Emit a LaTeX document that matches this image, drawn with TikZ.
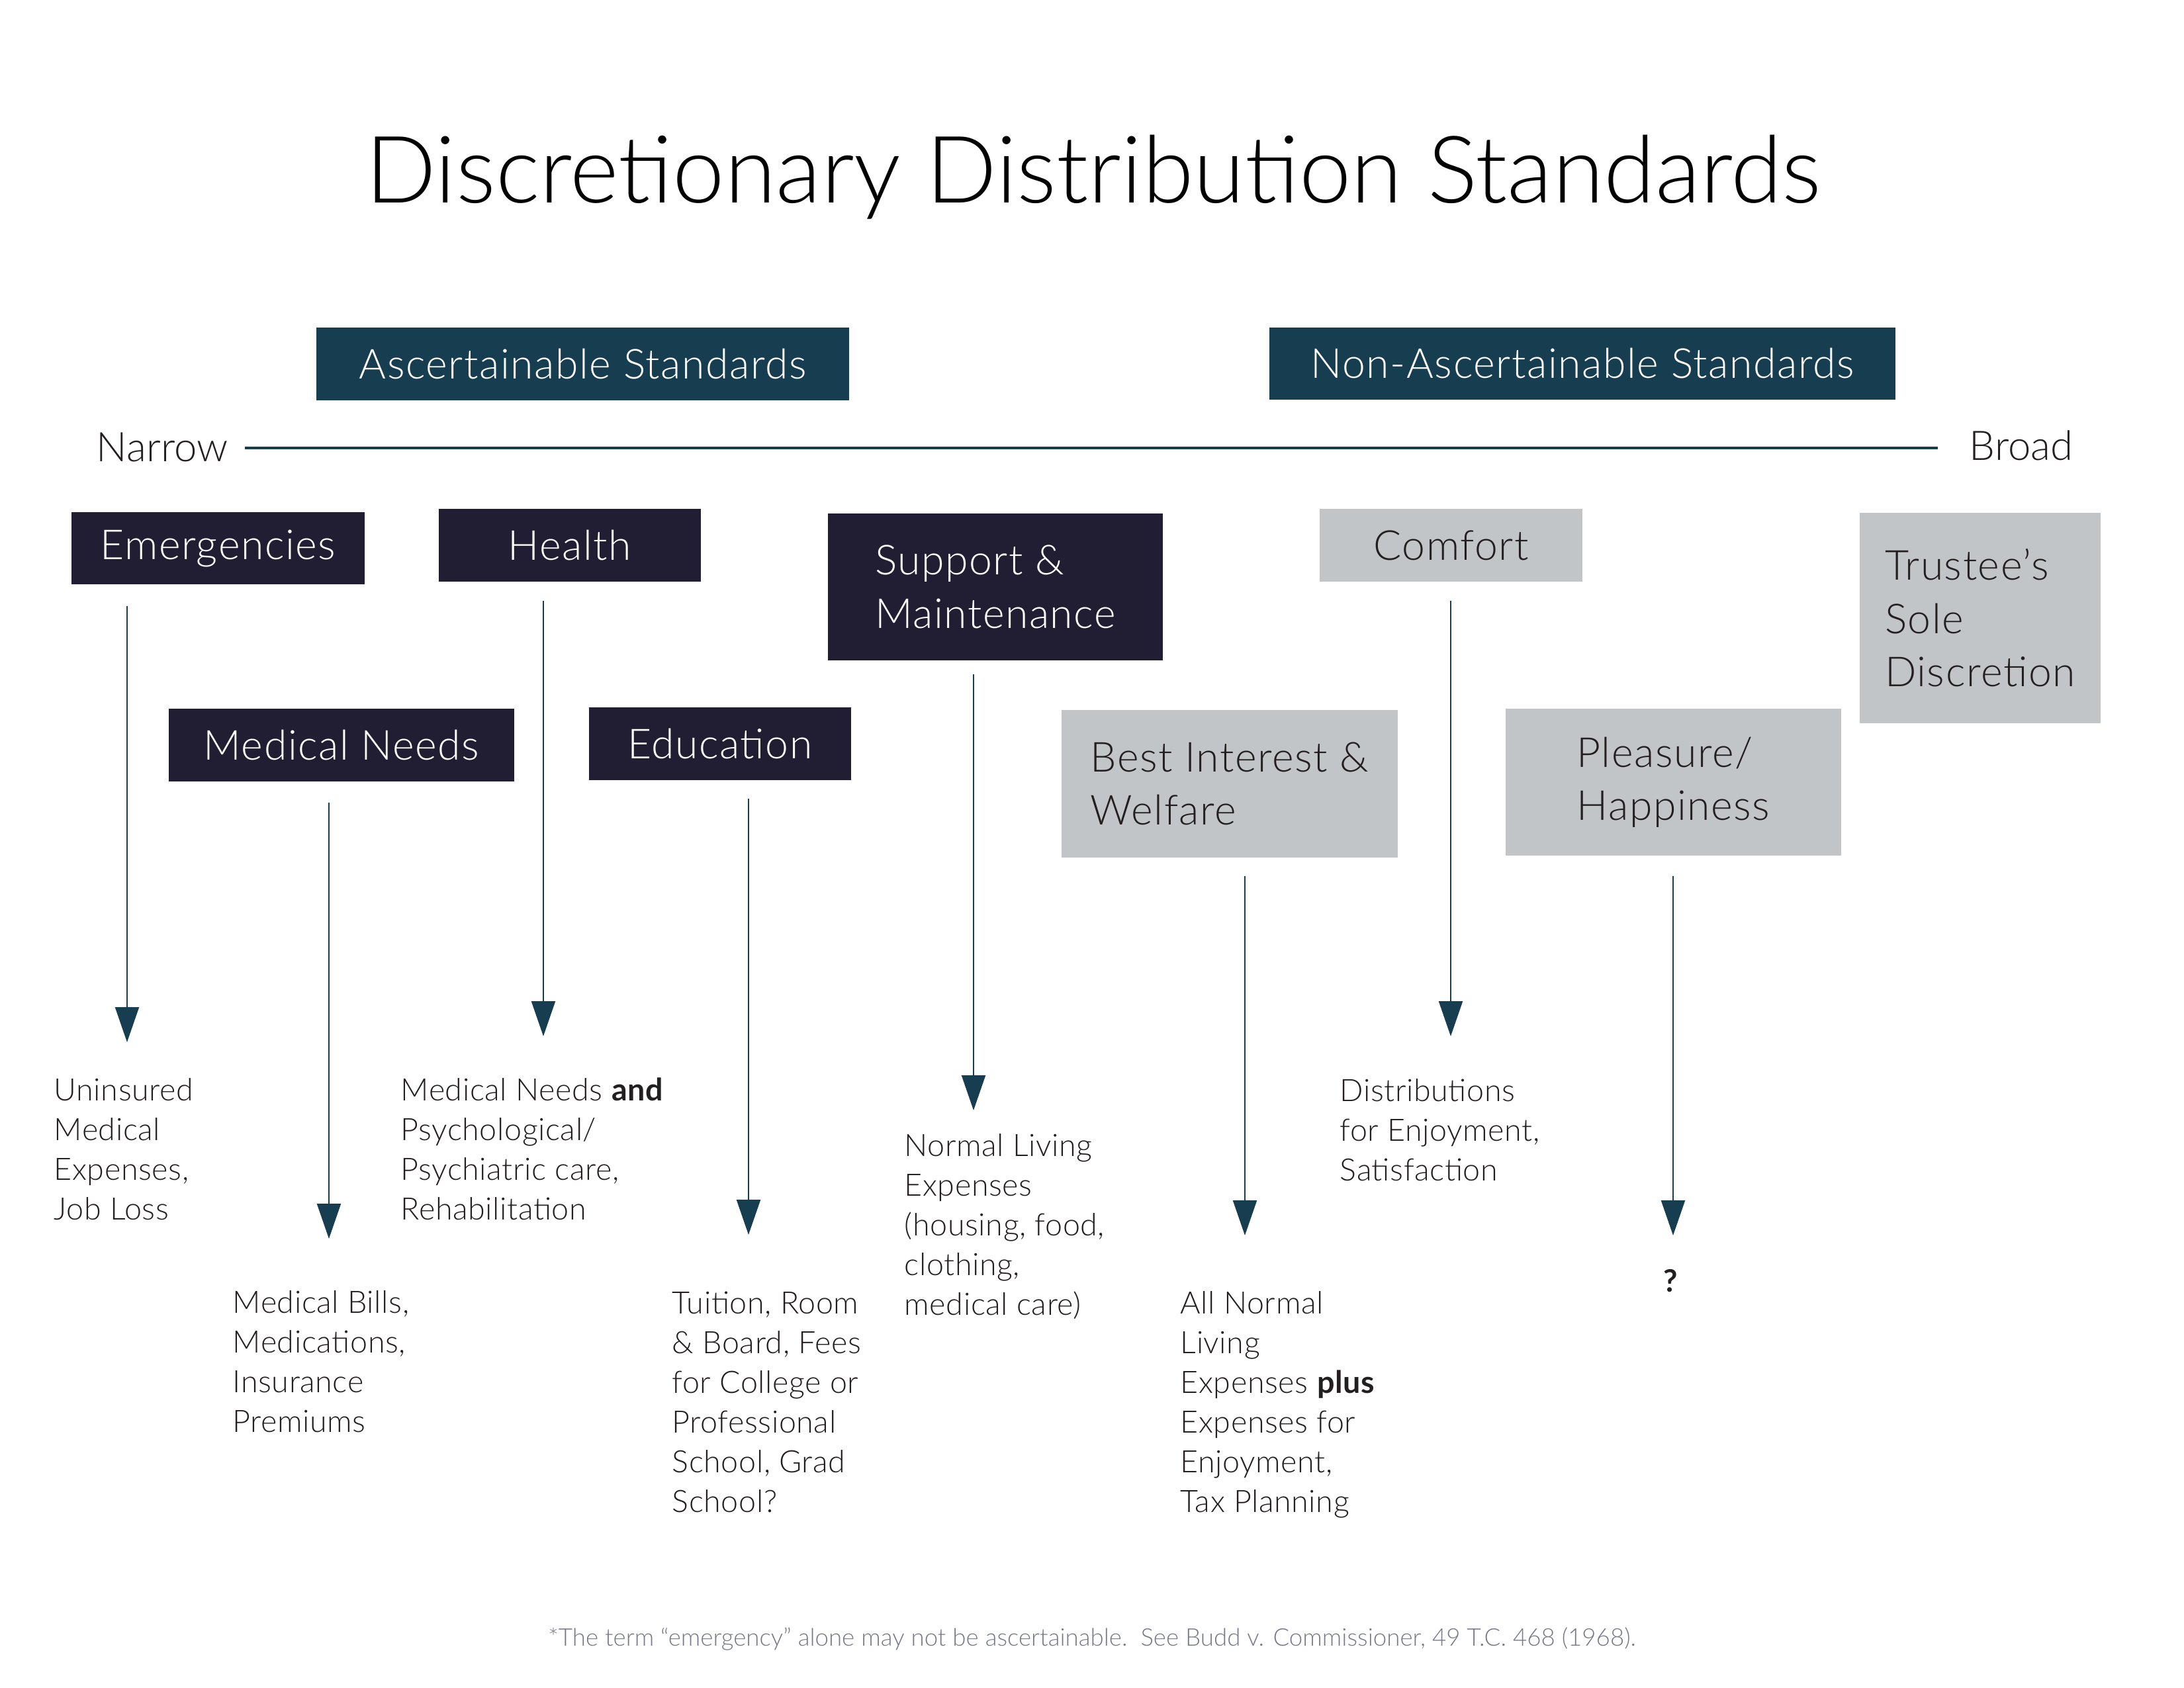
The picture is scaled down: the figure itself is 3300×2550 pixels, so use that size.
\documentclass[tikz,border=0pt]{standalone}
\usepackage{fontspec}
\setmainfont{Lato}[UprightFont={* Light},BoldFont={* Bold}]
\newfontfamily\boxfam{Lato}[UprightFont={* Light},BoldFont={* Bold},LetterSpace=2.5]
\newfontfamily\bodyfam{Lato}[UprightFont={* Light},BoldFont={* Bold},LetterSpace=1.2]
\usetikzlibrary{arrows.meta}
\definecolor{hdrC}{HTML}{173D50}
\definecolor{navyC}{HTML}{211D33}
\definecolor{greyC}{HTML}{C2C5C8}
\definecolor{arrC}{HTML}{173D50}
\definecolor{txtC}{HTML}{231F20}
\definecolor{footC}{HTML}{767889}
\newcommand\pw[1]{#1*0.24pt}
\newcommand\boxfont{\boxfam\fontsize{15}{19.3}\selectfont}
\newcommand\scalefont{\fontsize{14.8}{19.3}\selectfont}
\newcommand\bodyfont{\bodyfam\fontsize{11.2}{14.4}\selectfont}
\newcommand\titlefont{\fontsize{33.8}{40}\selectfont}
\newcommand\footfont{\fontsize{8.8}{10.5}\selectfont}
\tikzset{
  hdr/.style={fill=hdrC, text=white, font=\boxfont, inner sep=0pt},
  dbox/.style={fill=navyC, text=white, font=\boxfont, align=left, inner sep=0pt},
  gbox/.style={fill=greyC, text=txtC, font=\boxfont, align=left, inner sep=0pt},
  body/.style={anchor=base west, font=\bodyfont, text=txtC, align=left, inner sep=0pt},
  arr/.style={draw=arrC, line width=0.48pt, -{Triangle[width=8.64pt,length=12.7pt]}},
}
\begin{document}
\begin{tikzpicture}[x=0.24pt,y=-0.24pt]
\useasboundingbox (0,0) rectangle (3300,2550);

\node[anchor=base, font=\titlefont, text=black, inner sep=0pt] (title) at (1652,306) {Discretionary Distribution Standards};

\node[hdr, minimum width=\pw{805}, minimum height=\pw{110}] (asc) at (880.5,550) {Ascertainable Standards};
\node[hdr, minimum width=\pw{946}, minimum height=\pw{109}] (nonasc) at (2391,549.5) {Non-Ascertainable Standards};

\node[anchor=base west, font=\scalefont, text=txtC, inner sep=0pt] (narrow) at (145,697) {Narrow};
\node[anchor=base west, font=\scalefont, text=txtC, inner sep=0pt] (broad) at (2975,695) {Broad};
\coordinate (lineL) at (370,677);
\coordinate (lineR) at (2928,677);
\draw[hdrC, line width=0.85pt] (lineL) -- (lineR);

\node[dbox, minimum width=\pw{443}, minimum height=\pw{109}] (emerg) at (329.5,828.5) {Emergencies};
\node[dbox, minimum width=\pw{396}, minimum height=\pw{110}] (health) at (861,824) {Health};
\node[dbox, minimum width=\pw{522}, minimum height=\pw{110}] (mednd) at (516,1126) {Medical Needs};
\node[dbox, minimum width=\pw{396}, minimum height=\pw{110}] (educ) at (1088,1124) {Education};
\node[dbox, minimum width=\pw{506}, minimum height=\pw{222}] (support) at (1504,887) {Support \&\\Maintenance};
\node[gbox, minimum width=\pw{397}, minimum height=\pw{110}] (comfort) at (2192.5,824) {Comfort};
\node[gbox, minimum width=\pw{364}, minimum height=\pw{318}] (trustee) at (2992,934) {Trustee’s\\Sole\\Discretion};
\node[gbox, minimum width=\pw{508}, minimum height=\pw{223}] (best) at (1858,1184.5) {Best Interest \&\\Welfare};
\node[gbox, minimum width=\pw{507}, minimum height=\pw{222}] (pleasure) at (2528.5,1182) {Pleasure/\\Happiness};

\coordinate (tE) at (192,1575);
\coordinate (tH) at (821,1566);
\coordinate (tM) at (497,1872);
\coordinate (tEd) at (1131,1866);
\coordinate (tS) at (1471,1678);
\coordinate (tB) at (1881,1867);
\coordinate (tC) at (2192,1566);
\coordinate (tP) at (2528,1867);

\draw[arr, shorten <=\pw{32}] (emerg.south -| tE) -- (tE);
\draw[arr, shorten <=\pw{28}] (health.south -| tH) -- (tH);
\draw[arr, shorten <=\pw{31}] (mednd.south -| tM) -- (tM);
\draw[arr, shorten <=\pw{27}] (educ.south -| tEd) -- (tEd);
\draw[arr, shorten <=\pw{20}] (support.south -| tS) -- (tS);
\draw[arr, shorten <=\pw{27}] (best.south -| tB) -- (tB);
\draw[arr, shorten <=\pw{28}] (comfort.south -| tC) -- (tC);
\draw[arr, shorten <=\pw{30}] (pleasure.south -| tP) -- (tP);

% anchor = baseline of the last line
\node[body] (t1) at (81,1843) {Uninsured\\Medical\\Expenses,\\Job Loss};
\node[body] (t2) at (351,2164) {Medical Bills,\\Medications,\\Insurance\\Premiums};
\node[body] (t3) at (605,1843) {Medical Needs \textbf{and}\\Psychological/\\Psychiatric care,\\Rehabilitation};
\node[body] (t4) at (1015,2285) {Tuition, Room\\\& Board, Fees\\for College or\\Professional\\School, Grad\\School?};
\node[body] (t5) at (1366,1987) {Normal Living\\Expenses\\(housing, food,\\clothing,\\medical care)};
\node[body] (t6) at (1783,2285) {All Normal\\Living\\Expenses \textbf{plus}\\Expenses for\\Enjoyment,\\Tax Planning};
\node[body] (t7) at (2024,1784) {Distributions\\for Enjoyment,\\Satisfaction};
\node[body, font=\bodyfont\bfseries] (t8) at (2513,1952) {?};

\node[anchor=base, font=\footfont, text=footC, inner sep=0pt] (foot) at (1650,2487) {*The term “emergency” alone may not be ascertainable.\ \ See Budd v. Commissioner, 49 T.C. 468 (1968).};
\end{tikzpicture}
\end{document}
